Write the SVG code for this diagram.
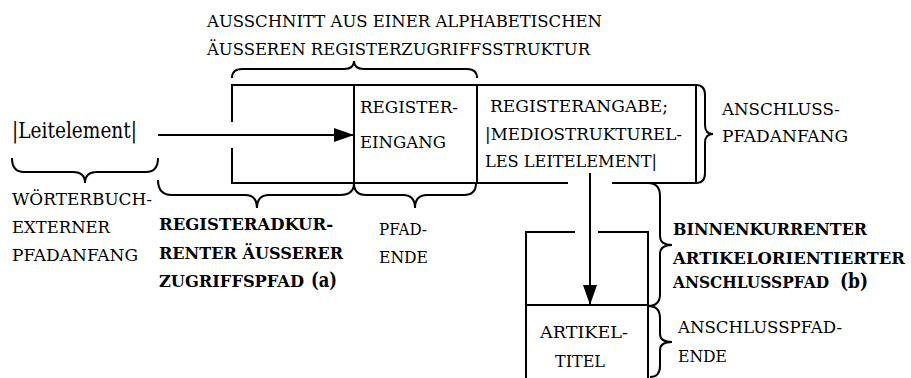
<svg xmlns="http://www.w3.org/2000/svg" width="911" height="378" viewBox="0 0 911 378">
  <style>
    .ln { fill: none; stroke: #000; stroke-width: 2; stroke-linecap: butt; }
    .br { fill: none; stroke: #000; stroke-width: 2; }
    text { font-family: "DejaVu Serif", serif; font-size: 17px; fill: #000; }
    .b { font-weight: bold; font-size: 17px; }
    .big { font-weight: bold; font-size: 21px; }
  </style>
  <defs>
    <marker id="head" markerWidth="20" markerHeight="14" refX="20" refY="7" orient="auto" markerUnits="userSpaceOnUse">
      <path d="M0,0 L20,7 L0,14 Z" fill="#000"/>
    </marker>
  </defs>
  <rect width="911" height="378" fill="#fff"/>

  <!-- heading over the structure excerpt -->
  <g id="heading">
    <text x="207" y="27" textLength="395" lengthAdjust="spacingAndGlyphs">AUSSCHNITT AUS EINER ALPHABETISCHEN</text>
    <text x="207" y="55" textLength="383" lengthAdjust="spacingAndGlyphs">ÄUSSEREN REGISTERZUGRIFFSSTRUKTUR</text>
    <path class="br" d="M232,78 Q232,69 242,69 L344,69 Q354,69 354,61 Q354,69 364,69 L467,69 Q477,69 477,78"/>
  </g>

  <!-- outer register structure -->
  <g id="register-frame">
    <path class="ln" d="M232,122 L232,85 L696,85 M232,148 L232,183 L568,183 M612,183 L696,183"/>
  </g>

  <g id="register-entry">
    <path class="ln" d="M354,85 L354,183"/>
    <text x="360" y="113" textLength="98" lengthAdjust="spacingAndGlyphs">REGISTER-</text>
    <text x="360" y="148" textLength="86" lengthAdjust="spacingAndGlyphs">EINGANG</text>
  </g>

  <g id="register-item">
    <path class="ln" d="M477,85 L477,183 M696,85 L696,183"/>
    <text x="490" y="112" textLength="178" lengthAdjust="spacingAndGlyphs">REGISTERANGABE;</text>
    <text x="485" y="140" textLength="197" lengthAdjust="spacingAndGlyphs">|MEDIOSTRUKTUREL-</text>
    <text x="485" y="167" textLength="172" lengthAdjust="spacingAndGlyphs">LES LEITELEMENT|</text>
    <path class="br" d="M696,85 Q705,85 705,95 L705,125 Q705,134 713,134 Q705,134 705,143 L705,173 Q705,183 696,183"/>
    <text x="722" y="115" textLength="118" lengthAdjust="spacingAndGlyphs">ANSCHLUSS-</text>
    <text x="722" y="142" textLength="126" lengthAdjust="spacingAndGlyphs">PFADANFANG</text>
  </g>

  <g id="leitelement">
    <text x="12" y="138" style="font-size:21.5px" textLength="125" lengthAdjust="spacingAndGlyphs">|Leitelement|</text>
    <path class="br" d="M12,158 Q12,172 24,172 L73,172 Q85,172 85,183 Q85,172 97,172 L146,172 Q158,172 158,158"/>
    <text x="12" y="205" textLength="140" lengthAdjust="spacingAndGlyphs">WÖRTERBUCH-</text>
    <text x="12" y="233" textLength="98" lengthAdjust="spacingAndGlyphs">EXTERNER</text>
    <text x="12" y="261" textLength="126" lengthAdjust="spacingAndGlyphs">PFADANFANG</text>
  </g>

  <g id="outer-path">
    <path class="br" d="M158,180 Q158,195 172,195 L245,195 Q257,195 257,208 Q257,195 269,195 L340,195 Q354,195 354,183"/>
    <text class="b" x="159" y="230" textLength="174" lengthAdjust="spacingAndGlyphs">REGISTERADKUR-</text>
    <text class="b" x="159" y="259" textLength="184" lengthAdjust="spacingAndGlyphs">RENTER ÄUSSERER</text>
    <text class="b" x="159" y="287" textLength="145" lengthAdjust="spacingAndGlyphs">ZUGRIFFSPFAD</text>
    <text class="big" x="311" y="287" textLength="26" lengthAdjust="spacingAndGlyphs">(a)</text>
  </g>

  <g id="path-end">
    <path class="br" d="M354,183 Q354,195 366,195 L403,195 Q415,195 415,208 Q415,195 427,195 L464,195 Q476,195 476,183"/>
    <text x="379" y="235" textLength="48" lengthAdjust="spacingAndGlyphs">PFAD-</text>
    <text x="379" y="263" textLength="49" lengthAdjust="spacingAndGlyphs">ENDE</text>
  </g>

  <g id="article">
    <path class="ln" d="M526,378 L526,232 L575,232 M598,232 L648,232 L648,378 M526,305 L648,305"/>
    <text x="540" y="338" textLength="88" lengthAdjust="spacingAndGlyphs">ARTIKEL-</text>
    <text x="555" y="367" textLength="50" lengthAdjust="spacingAndGlyphs">TITEL</text>
  </g>

  <g id="inner-path">
    <path class="br" d="M648,183 Q660,183 660,196 L660,236 Q660,245 672,245 Q660,245 660,254 L660,294 Q660,306 648,306"/>
    <text class="b" x="673" y="235" textLength="194" lengthAdjust="spacingAndGlyphs">BINNENKURRENTER</text>
    <text class="b" x="673" y="264" textLength="232" lengthAdjust="spacingAndGlyphs">ARTIKELORIENTIERTER</text>
    <text class="b" x="673" y="288" style="font-size:16.5px" textLength="156" lengthAdjust="spacingAndGlyphs">ANSCHLUSSPFAD</text>
    <text class="big" x="840" y="288" textLength="28" lengthAdjust="spacingAndGlyphs">(b)</text>
  </g>

  <g id="inner-path-end">
    <path class="br" d="M648,306 Q660,306 660,318 L660,334 Q660,342 672,342 Q660,342 660,350 L660,366 Q660,377 650,377"/>
    <text x="678" y="333" textLength="164" lengthAdjust="spacingAndGlyphs">ANSCHLUSSPFAD-</text>
    <text x="678" y="362" textLength="49" lengthAdjust="spacingAndGlyphs">ENDE</text>
  </g>

  <!-- connectors -->
  <g id="connectors">
    <line class="ln" x1="158" y1="135" x2="354" y2="135" marker-end="url(#head)"/>
    <line class="ln" x1="590" y1="173" x2="590" y2="305" marker-end="url(#head)"/>
  </g>
</svg>
